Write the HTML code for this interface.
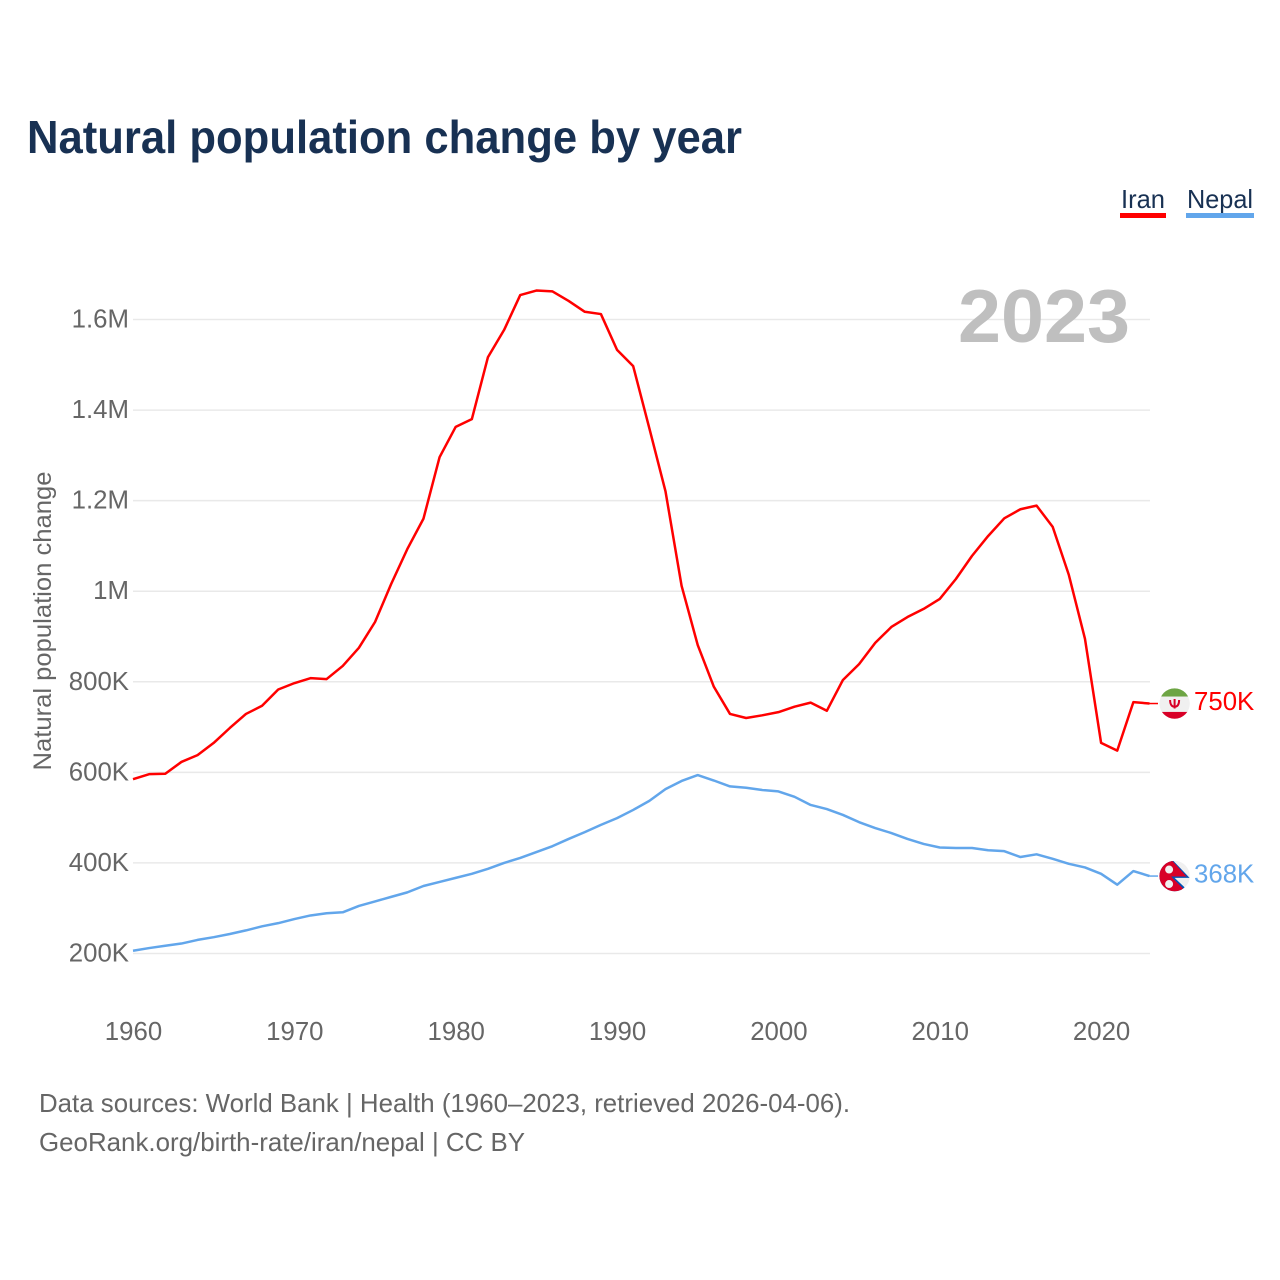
<!DOCTYPE html>
<html lang="en">
<head>
<meta charset="utf-8">
<title>Natural population change by year</title>
<style>
html,body{margin:0;padding:0;background:#fff;}
svg{display:block;font-family:"Liberation Sans",sans-serif;}
</style>
</head>
<body>
<svg id="chart" xmlns="http://www.w3.org/2000/svg" width="1280" height="1280" viewBox="0 0 1280 1280">
  <defs>
    <clipPath id="iran-clip"><circle cx="0" cy="0" r="15.2"/></clipPath>
    <clipPath id="nepal-clip"><circle cx="0" cy="0" r="15.2"/></clipPath>
  </defs>
  <rect x="0" y="0" width="1280" height="1280" fill="#ffffff"/>
  <text x="27" y="153" font-size="46" font-weight="700" fill="#183153" textLength="715" lengthAdjust="spacingAndGlyphs">Natural population change by year</text>
  <g id="grid"></g>
  <text x="1130" y="342" text-anchor="end" font-size="75" font-weight="700" fill="#bfbfbf" textLength="172" lengthAdjust="spacingAndGlyphs">2023</text>
  <g id="y-axis"></g>
  <g id="x-axis"></g>
  <text transform="translate(51,621) rotate(-90)" text-anchor="middle" font-size="25" fill="#666666" textLength="299" lengthAdjust="spacingAndGlyphs">Natural population change</text>
  <g id="series"></g>

  <g>
    <g>
      <text x="1121" y="208" font-size="26" fill="#183153" textLength="44" lengthAdjust="spacingAndGlyphs">Iran</text>
      <rect x="1120" y="213" width="46" height="5" fill="#ff0000"/>
    </g>
    <g>
      <text x="1187" y="208" font-size="26" fill="#183153" textLength="66" lengthAdjust="spacingAndGlyphs">Nepal</text>
      <rect x="1186" y="213" width="68" height="5" fill="#62a6eb"/>
    </g>
  </g>

  <g>
    <text x="39" y="1112" font-size="26" fill="#666666" textLength="811" lengthAdjust="spacingAndGlyphs">Data sources: World Bank | Health (1960–2023, retrieved 2026-04-06).</text>
    <text x="39" y="1151" font-size="26" fill="#666666" textLength="486" lengthAdjust="spacingAndGlyphs">GeoRank.org/birth-rate/iran/nepal | CC BY</text>
  </g>

  <g id="flag-iran">
    <g clip-path="url(#iran-clip)">
      <rect x="-16" y="-16" width="32" height="32" fill="#f0f0f0"/>
      <rect x="-16" y="-16" width="32" height="9" fill="#6da544"/>
      <rect x="-16" y="8.4" width="32" height="8" fill="#d80027"/>
      <path d="M-4.5 -3.5 C-4.5 2 -2 3.2 0 3.2 C2 3.2 4.5 2 4.5 -3.5 M0 -4.5 V5" fill="none" stroke="#d80027" stroke-width="2"/>
    </g>
  </g>
  <g id="flag-nepal">
    <g clip-path="url(#nepal-clip)">
      <rect x="-16" y="-16" width="32" height="32" fill="#f0f0f0"/>
      <polygon points="-16,-16 -2,-16 15,1.8 0,1.8 15,16 -16,16" fill="#0052b4"/>
      <polygon points="-16,-16 -3,-16 12,0.4 -3.5,0.4 12,16 -16,16" fill="#d80027"/>
      <circle cx="-5.5" cy="-6.5" r="4" fill="#f0f0f0"/>
      <circle cx="-5.5" cy="8" r="4" fill="#f0f0f0"/>
    </g>
  </g>
</svg>
<script>
const years = [1960,1961,1962,1963,1964,1965,1966,1967,1968,1969,1970,1971,1972,1973,1974,1975,1976,1977,1978,1979,1980,1981,1982,1983,1984,1985,1986,1987,1988,1989,1990,1991,1992,1993,1994,1995,1996,1997,1998,1999,2000,2001,2002,2003,2004,2005,2006,2007,2008,2009,2010,2011,2012,2013,2014,2015,2016,2017,2018,2019,2020,2021,2022,2023];
const iranValues = [585,596,597,623,638,665,698,729,747,783,797,808,806,835,875,932,1016,1093,1160,1296,1363,1380,1517,1577,1654,1664,1662,1641,1617,1612,1533,1497,1360,1221,1012,881,789,729,720,726,733,745,754,736,804,839,886,921,943,961,983,1027,1078,1122,1161,1181,1189,1142,1036,895,665,648,755,752];
const nepalValues = [206,212,217,222,230,236,243,251,260,267,276,284,289,291,305,315,325,335,349,358,367,376,387,400,411,424,437,453,468,484,499,517,537,563,581,594,582,569,566,561,558,546,528,519,506,490,477,466,453,442,434,433,433,428,426,413,419,409,398,390,376,352,382,371];
const yTickValues = [200,400,600,800,1000,1200,1400,1600];
const yTickLabels = ['200K','400K','600K','800K','1M','1.2M','1.4M','1.6M'];
const xTickValues = [1960,1970,1980,1990,2000,2010,2020];
const iranEndLabel = '750K';
const nepalEndLabel = '368K';

const SVG_NS = 'http://www.w3.org/2000/svg';
function xScale(year){ return 133 + (year - 1960) * 16.135; }
function yScale(v){ return 953.5 - (v - 200) * 634 / 1400; }
function make(tag, parent, attrs){
  const el = document.createElementNS(SVG_NS, tag);
  for (const k in attrs) el.setAttribute(k, attrs[k]);
  parent.appendChild(el);
  return el;
}

const grid = document.getElementById('grid');
const yAxis = document.getElementById('y-axis');
const xAxis = document.getElementById('x-axis');
const series = document.getElementById('series');

yTickValues.forEach(function(v, i){
  const line = make('line', grid, {x1:133, x2:1150, y1:yScale(v), y2:yScale(v), stroke:'#e9e9e9', 'stroke-width':1.5});
  
  
  const t = make('text', yAxis, {x:129, y:yScale(v) + 8, 'text-anchor':'end', 'font-size':25.8, fill:'#666666'});
  t.textContent = yTickLabels[i];
  
  
});

xTickValues.forEach(function(yr){
  const t = make('text', xAxis, {x:xScale(yr) + 0.5, y:1040, 'text-anchor':'middle', 'font-size':25.8, fill:'#666666'});
  t.textContent = String(yr);
  
  
});

function pathFor(values){
  return values.map(function(v, i){
    return (i ? 'L' : 'M') + xScale(years[i]).toFixed(2) + ' ' + yScale(v).toFixed(2);
  }).join(' ');
}

const iranLine = make('path', series, {d:pathFor(iranValues), fill:'none', stroke:'#ff0000', 'stroke-width':2.5, 'stroke-linejoin':'round'});


const nepalLine = make('path', series, {d:pathFor(nepalValues), fill:'none', stroke:'#62a6eb', 'stroke-width':2.5, 'stroke-linejoin':'round'});



const lastYearX = xScale(years[years.length - 1]);
const iranEndY = yScale(iranValues[iranValues.length - 1]);
const nepalEndY = yScale(nepalValues[nepalValues.length - 1]);

const iranLeader = make('line', series, {x1:lastYearX, x2:1158, y1:iranEndY, y2:iranEndY, stroke:'#ff0000', 'stroke-width':1.5});


const nepalLeader = make('line', series, {x1:lastYearX, x2:1158, y1:nepalEndY, y2:nepalEndY, stroke:'#62a6eb', 'stroke-width':1.5});



document.getElementById('flag-iran').setAttribute('transform', 'translate(1174.6,' + iranEndY + ')');
document.getElementById('flag-nepal').setAttribute('transform', 'translate(1174.6,' + nepalEndY + ')');

const iranLabel = make('text', series, {x:1194, y:iranEndY + 6.5, 'font-size':25.8, fill:'#ff0000'});
iranLabel.textContent = iranEndLabel;


const nepalLabel = make('text', series, {x:1194, y:nepalEndY + 6.5, 'font-size':25.8, fill:'#62a6eb'});
nepalLabel.textContent = nepalEndLabel;


</script>
</body>
</html>
